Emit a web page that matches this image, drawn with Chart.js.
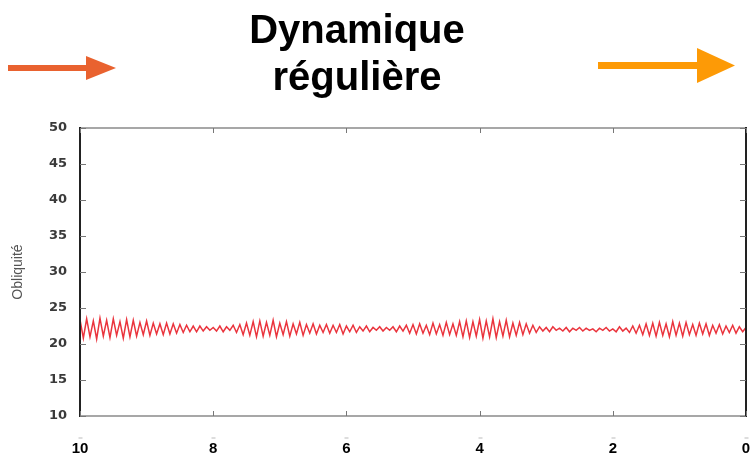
<!DOCTYPE html>
<html><head><meta charset="utf-8">
<script src="https://cdn.jsdelivr.net/npm/chart.js@4.4.0/dist/chart.umd.min.js"></script>
<style>html,body{margin:0;padding:0;background:#fff}</style>
</head><body>
<canvas id="c" width="753" height="465"></canvas>
<script>
const titleLines = ['Dynamique', 'régulière'];
const yAxisTitle = 'Obliquité';
const xTickValues = [10, 8, 6, 4, 2, 0];
const yTickValues = [10, 15, 20, 25, 30, 35, 40, 45, 50];
const ageStart = 10;
const ageStep = 0.05;
// obliquity, one value every 0.05 time unit from 10 down to 0
const obliquity = [
  23.4, 20.8, 23.5, 21.0, 23.2, 20.7, 23.6, 21.1, 23.3, 20.9, 23.5, 21.2, 23.1, 20.8, 23.4, 21.0, 23.3, 21.1, 23.0, 21.3, 23.2, 21.2, 22.9, 21.4, 22.8,
  21.3, 22.9, 21.4, 22.8, 21.5, 22.7, 21.6, 22.6, 21.7, 22.5, 21.7, 22.5,
  21.8, 22.4, 21.9, 22.3, 21.8, 22.5, 21.7, 22.4, 21.9, 22.6, 21.6, 22.7,
  21.3, 22.9, 21.2, 23.1, 21.0, 23.2, 21.1, 23.0, 21.2, 23.3, 21.0, 22.9, 21.3, 23.1, 21.1, 22.8, 21.4, 23.0, 21.2, 22.7, 21.5, 22.8, 21.4, 22.6, 21.6, 22.7,
  21.5, 22.6, 21.6, 22.7, 21.4, 22.5, 21.7, 22.6, 21.6, 22.4, 21.8, 22.5, 21.7, 22.3, 21.9, 22.4, 21.8, 22.3, 21.9, 22.4, 21.7, 22.5, 21.8,
  22.6, 21.5, 22.7, 21.4, 22.8, 21.5, 22.6, 21.3, 22.9, 21.4, 22.7, 21.2, 23.0, 21.3, 22.8, 21.2, 23.1,
  21.0, 23.2, 20.9, 23.1, 21.1, 23.4, 20.8, 23.2, 21.0, 23.5, 20.9, 23.1, 21.1, 23.3, 21.0, 22.9, 21.2, 23.0, 21.3, 22.8, 21.5,
  22.6, 21.6, 22.4, 21.8, 22.3, 21.7, 22.4, 21.9, 22.2, 21.8, 22.3, 21.7, 22.2, 21.9, 22.3,
  21.8, 22.2, 21.9, 22.1, 21.7, 22.2, 21.9, 22.3, 21.8, 22.1, 21.7, 22.4, 21.8, 22.2, 21.6, 22.5, 21.5, 22.6,
  21.3, 22.8, 21.2, 22.9, 21.1, 23.0, 21.2, 22.8, 21.0, 23.1, 21.2, 22.9, 21.1, 23.0, 21.3, 22.7, 21.2, 22.9, 21.4, 22.8, 21.2, 22.6, 21.5, 22.7, 21.4, 22.5, 21.6, 22.6, 21.5, 22.4, 21.7, 22.3
];

const points = obliquity.map((v, i) => ({ x: ageStart - i * ageStep, y: v }));

const decor = {
  id: 'decor',
  beforeDraw(chart) {
    const ctx = chart.ctx;
    ctx.save();
    ctx.fillStyle = '#fff';
    ctx.fillRect(0, 0, chart.width, chart.height);
    ctx.restore();
  },
  afterDraw(chart) {
    const { ctx, chartArea: { left, right, top, bottom }, scales: { x, y } } = chart;
    ctx.save();
    // frame
    ctx.strokeStyle = '#8a8a8a';
    ctx.lineWidth = 1.5;
    ctx.beginPath();
    ctx.moveTo(left, top); ctx.lineTo(right, top);
    ctx.moveTo(left, bottom); ctx.lineTo(right, bottom);
    ctx.stroke();
    ctx.strokeStyle = '#222';
    ctx.lineWidth = 2;
    ctx.beginPath();
    ctx.moveTo(left, top - 1); ctx.lineTo(left, bottom + 1);
    ctx.moveTo(right, top - 1); ctx.lineTo(right, bottom + 1);
    ctx.stroke();
    // inner ticks
    ctx.strokeStyle = '#777';
    ctx.lineWidth = 1;
    ctx.beginPath();
    xTickValues.forEach(v => {
      const px = Math.round(x.getPixelForValue(v)) + 0.5;
      ctx.moveTo(px, bottom); ctx.lineTo(px, bottom - 5);
      ctx.moveTo(px, top); ctx.lineTo(px, top + 5);
    });
    yTickValues.forEach(v => {
      const py = Math.round(y.getPixelForValue(v)) + 0.5;
      ctx.moveTo(left, py); ctx.lineTo(left + 6, py);
      ctx.moveTo(right, py); ctx.lineTo(right - 6, py);
    });
    ctx.stroke();
    ctx.strokeStyle = '#bbb';
    ctx.beginPath();
    xTickValues.forEach(v => {
      const px = Math.round(x.getPixelForValue(v)) + 0.5;
      ctx.moveTo(px - 2, bottom + 22); ctx.lineTo(px + 2, bottom + 22);
    });
    ctx.stroke();
    // title
    ctx.fillStyle = '#000';
    ctx.textAlign = 'center';
    ctx.textBaseline = 'alphabetic';
    ctx.font = 'bold 40px "Liberation Sans", Arial, sans-serif';
    ctx.fillText(titleLines[0], 357, 43);
    ctx.fillText(titleLines[1], 357, 90);
    // left arrow
    ctx.fillStyle = '#e9622f';
    ctx.fillRect(8, 65, 80, 6);
    ctx.beginPath();
    ctx.moveTo(86, 56); ctx.lineTo(116, 68); ctx.lineTo(86, 80); ctx.closePath();
    ctx.fill();
    // right arrow
    ctx.fillStyle = '#fd9a06';
    ctx.fillRect(598, 62, 102, 7);
    ctx.beginPath();
    ctx.moveTo(697, 48); ctx.lineTo(735, 65.5); ctx.lineTo(697, 83); ctx.closePath();
    ctx.fill();
    ctx.restore();
  }
};

new Chart(document.getElementById('c'), {
  type: 'line',
  data: {
    datasets: [{
      data: points,
      borderColor: 'rgba(232,30,40,0.9)',
      borderWidth: 1.5,
      pointRadius: 0,
      tension: 0,
      fill: false
    }]
  },
  options: {
    responsive: false,
    animation: false,
    layout: { padding: { left: 0, right: 7, top: 128, bottom: 0 } },
    plugins: { legend: { display: false }, tooltip: { enabled: false }, title: { display: false } },
    scales: {
      x: {
        type: 'linear',
        min: 0, max: 10,
        reverse: true,
        afterBuildTicks: s => { s.ticks = xTickValues.map(v => ({ value: v })); },
        afterFit: s => { s.height = 49; s.paddingLeft = 0; s.paddingRight = 0; },
        ticks: {
          color: '#000',
          padding: 24,
          maxRotation: 0,
          autoSkip: false,
          font: { family: '"Liberation Sans", Arial, sans-serif', weight: 'bold', size: 15 }
        },
        grid: { display: false, drawTicks: false },
        border: { display: false }
      },
      y: {
        min: 10, max: 50,
        afterBuildTicks: s => { s.ticks = yTickValues.map(v => ({ value: v })); },
        afterFit: s => { s.width = 80; s.paddingTop = 0; s.paddingBottom = 0; },
        ticks: {
          color: '#3a3a3a',
          padding: 13,
          autoSkip: false,
          font: { family: '"DejaVu Sans", sans-serif', weight: 'bold', size: 13 }
        },
        grid: { display: false, drawTicks: false },
        border: { display: false },
        title: {
          display: true,
          text: yAxisTitle,
          color: '#555',
          padding: { top: 10, bottom: 0 },
          font: { family: '"Liberation Sans", Arial, sans-serif', size: 14 }
        }
      }
    }
  },
  plugins: [decor]
});
</script>
</body></html>
